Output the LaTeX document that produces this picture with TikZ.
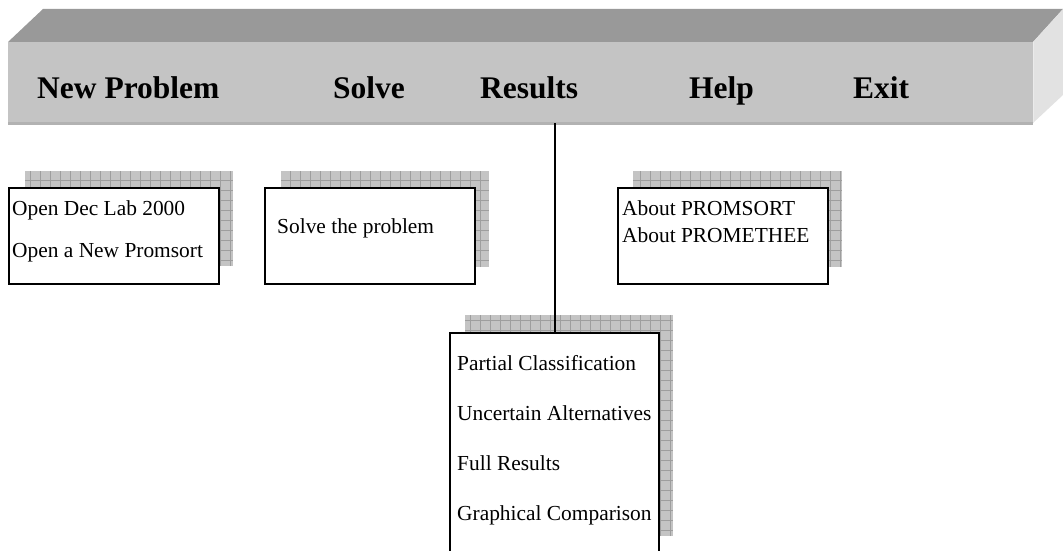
\documentclass[tikz,border=0pt]{standalone}
\usepackage{fontspec}
\setmainfont{Liberation Serif}
\definecolor{bartop}{HTML}{999999}
\definecolor{barfront}{HTML}{C4C4C4}
\definecolor{barside}{HTML}{E2E2E2}
\definecolor{baredge}{HTML}{B2B2B2}
\definecolor{shadefill}{HTML}{C4C4C4}
\definecolor{shadeline}{HTML}{9E9E9E}

\begin{document}
\begin{tikzpicture}[x=1pt, y=-1pt,
  menu/.style={font=\fontsize{31.5}{36}\selectfont\bfseries, anchor=base west, inner sep=0pt},
  item/.style={font=\fontsize{21.4}{25}\selectfont, anchor=base west, inner sep=0pt},
  popup/.style={draw, line width=2.2pt, fill=white, inner sep=0pt, anchor=north west},
  shade/.style={fill=shadefill},
  shadegrid/.style={draw=shadeline, line width=0.6pt, step=10pt}]
\useasboundingbox (0,0) rectangle (1063,551);

% the menu bar
\fill[bartop] (8,42) -- (43,9) -- (1063,9) -- (1033,42) -- cycle;
\fill[barside] (1033,42) -- (1063,9) -- (1063,95) -- (1033,123) -- cycle;
\node[fill=barfront, inner sep=0pt, anchor=north west, minimum width=1025pt, minimum height=81pt] (bar) at (8,42) {};
\draw[baredge, line width=2.5pt] (bar.south west) -- (bar.south east);
\draw[barside!70!white, line width=1.5pt] (bar.south east) -- (bar.north east);

\node[menu] (newproblem) at (37,99) {New Problem};
\node[menu] (solve) at (333,99) {Solve};
\node[menu] (results) at (480,99) {Results};
\node[menu] (help) at (689,99) {Help};
\node[menu] (exit) at (853,99) {Exit};

% shadows
\fill[shade] (25,171) rectangle (233,266);
\draw[shadegrid] (25,171) grid (233,266);
\fill[shade] (281,171) rectangle (489,267);
\draw[shadegrid] (281,171) grid (489,267);
\fill[shade] (633,171) rectangle (842,267);
\draw[shadegrid] (633,171) grid (842,267);
\fill[shade] (465,315) rectangle (673,536);
\draw[shadegrid] (465,315) grid (673,536);

% drop-down boxes
\node[popup, minimum width=210pt, minimum height=96pt] (newbox) at (8,187) {};
\node[popup, minimum width=210pt, minimum height=96pt] (solvebox) at (264,187) {};
\node[popup, minimum width=210pt, minimum height=96pt] (helpbox) at (617,187) {};
\node[popup, minimum width=209pt, minimum height=235pt] (resbox) at (449,332) {};

\draw[line width=2pt] (resbox.north |- bar.south) -- (resbox.north);

\node[item] (opendec) at (12,215) {Open Dec Lab 2000};
\node[item] (opennew) at (12,257) {Open a New Promsort};
\node[item] (solveit) at (277,233) {Solve the problem};
\node[item] (aboutsort) at (622,215) {About PROMSORT};
\node[item] (aboutprom) at (622,242) {About PROMETHEE};
\node[item] (partial) at (457,370) {Partial Classification};
\node[item] (uncertain) at (457,420) {Uncertain Alternatives};
\node[item] (full) at (457,470) {Full Results};
\node[item] (graphical) at (457,520) {Graphical Comparison};
\end{tikzpicture}
\end{document}
